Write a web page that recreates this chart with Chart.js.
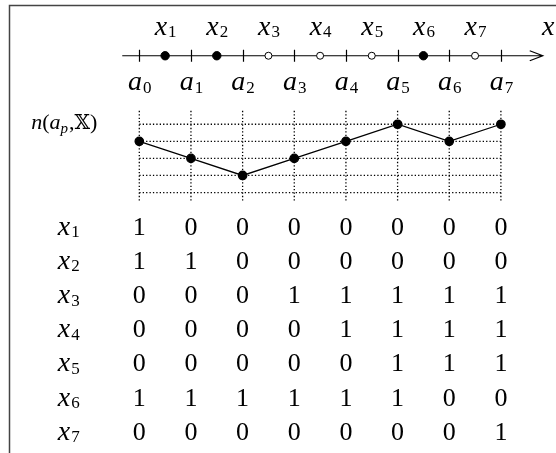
<!DOCTYPE html>
<html>
<head>
<meta charset="utf-8">
<script src="https://cdn.jsdelivr.net/npm/chart.js@4"></script>
<style>
body { margin: 0; background: #fff; }
#wrap { width: 556px; height: 453px; position: relative; }
</style>
</head>
<body>
<div id="wrap"><canvas id="myChart"></canvas></div>
<script>
// cut points a_0..a_7 (x positions 0..7)
const cutIndex = [0, 1, 2, 3, 4, 5, 6, 7];
const cutLabels = ['0', '1', '2', '3', '4', '5', '6', '7'];
// sample points x_1..x_7 sit between the cuts
const pointLabels = ['1', '2', '3', '4', '5', '6', '7'];
const pointPos = [0.5, 1.5, 2.5, 3.5, 4.5, 5.5, 6.5];
const pointFilled = [true, true, false, false, false, true, false];
// n(a_p, X)
const nValues = [3, 2, 1, 2, 3, 4, 3, 4];
const gridLevels = [0, 1, 2, 3, 4];
// table rows
const rowLabels = ['1', '2', '3', '4', '5', '6', '7'];
const rowValues = [
    [1, 0, 0, 0, 0, 0, 0, 0],
    [1, 1, 0, 0, 0, 0, 0, 0],
    [0, 0, 0, 1, 1, 1, 1, 1],
    [0, 0, 0, 0, 1, 1, 1, 1],
    [0, 0, 0, 0, 0, 1, 1, 1],
    [1, 1, 1, 1, 1, 1, 0, 0],
    [0, 0, 0, 0, 0, 0, 0, 1]
];

const FAM = '"Liberation Serif", "DejaVu Serif", "DejaVu Sans", serif';
const LINE_Y = 51;       // number line, in page pixels (yTop axis)
const TOP_LABEL_Y = 30;
const CUT_LABEL_Y = 87;
const LABEL_COL = -1.375; // x position of the row labels
const BIG = 26;   // digits
const ITAL = 28;  // italic letters
const SUB = 17;   // subscripts

function drawSub(ctx, base, sub, cx, baseline) {
    ctx.font = 'italic ' + ITAL + 'px ' + FAM;
    const w1 = ctx.measureText(base).width;
    ctx.font = SUB + 'px ' + FAM;
    const w2 = ctx.measureText(sub).width;
    const left = cx - (w1 + w2) / 2;
    ctx.textAlign = 'left';
    ctx.textBaseline = 'alphabetic';
    ctx.font = 'italic ' + ITAL + 'px ' + FAM;
    ctx.fillText(base, left, baseline);
    ctx.font = SUB + 'px ' + FAM;
    ctx.fillText(sub, left + w1 + 1, baseline + 2.5);
}

const figurePlugin = {
    id: 'figure',
    beforeDatasetsDraw(chart) {
        const ctx = chart.ctx;
        const x = chart.scales.x, yTop = chart.scales.yTop;
        ctx.save();
        // frame
        ctx.strokeStyle = '#444';
        ctx.lineWidth = 1.5;
        ctx.beginPath();
        ctx.moveTo(9.5, 453);
        ctx.lineTo(9.5, 5.5);
        ctx.lineTo(556, 5.5);
        ctx.stroke();
        // number line
        const ly = yTop.getPixelForValue(LINE_Y) + 0.5;
        const x0 = x.getPixelForValue(-0.33), x1 = x.getPixelForValue(7.81);
        ctx.strokeStyle = '#000';
        ctx.lineWidth = 1.2;
        ctx.beginPath();
        ctx.moveTo(x0, ly);
        ctx.lineTo(x1, ly);
        ctx.moveTo(x1 - 13, ly - 5);
        ctx.lineTo(x1, ly);
        ctx.lineTo(x1 - 13, ly + 5);
        cutIndex.forEach(i => {
            const px = Math.round(x.getPixelForValue(i)) + 0.5;
            ctx.moveTo(px, ly - 6);
            ctx.lineTo(px, ly + 6);
        });
        ctx.stroke();
        ctx.restore();
    },
    afterDatasetsDraw(chart) {
        const ctx = chart.ctx;
        const x = chart.scales.x, yTop = chart.scales.yTop, yRow = chart.scales.yRow;
        ctx.save();
        ctx.fillStyle = '#000';
        pointLabels.forEach((s, i) => {
            drawSub(ctx, 'x', s, x.getPixelForValue(pointPos[i]), yTop.getPixelForValue(TOP_LABEL_Y));
        });
        ctx.font = 'italic ' + ITAL + 'px ' + FAM;
        ctx.textAlign = 'left';
        ctx.fillText('x', 542, yTop.getPixelForValue(TOP_LABEL_Y));
        cutLabels.forEach((s, i) => {
            drawSub(ctx, 'a', s, x.getPixelForValue(cutIndex[i]), yTop.getPixelForValue(CUT_LABEL_Y));
        });
        // n(a_p, X) label
        const ny = yTop.getPixelForValue(127);
        let cx = x.getPixelForValue(LABEL_COL) - 37;
        const parts = [['n', 'italic 22px '], ['(', '22px '], ['a', 'italic 22px '], ['p', 'italic 15px ', 4], [',', '22px '], ['\u{1D54F}', '20px '], [')', '22px ']];
        parts.forEach(p => {
            ctx.font = p[1] + FAM;
            ctx.fillText(p[0], cx, ny + (p[2] || 0));
            cx += ctx.measureText(p[0]).width + (p[2] ? 1 : 0);
        });
        // table
        rowLabels.forEach((s, r) => {
            const by = yRow.getPixelForValue(r + 1);
            drawSub(ctx, 'x', s, x.getPixelForValue(LABEL_COL), by);
            ctx.font = BIG + 'px ' + FAM;
            ctx.textAlign = 'center';
            rowValues[r].forEach((v, c) => {
                ctx.fillText(String(v), x.getPixelForValue(cutIndex[c]), by);
            });
        });
        ctx.restore();
    }
};

const datasets = [];
cutIndex.forEach(i => {
    datasets.push({
        type: 'line', yAxisID: 'yN',
        data: [{ x: i, y: -0.47 }, { x: i, y: 4.9 }],
        borderColor: '#000', borderWidth: 1.3, borderDash: [1.3, 2.1], pointRadius: 0
    });
});
gridLevels.forEach(k => {
    datasets.push({
        type: 'line', yAxisID: 'yN',
        data: [{ x: cutIndex[0], y: k }, { x: cutIndex[cutIndex.length - 1], y: k }],
        borderColor: '#000', borderWidth: 1.3, borderDash: [1.3, 2.1], pointRadius: 0
    });
});
datasets.push({
    type: 'line', yAxisID: 'yN',
    data: nValues.map((v, i) => ({ x: cutIndex[i], y: v })),
    borderColor: '#000', borderWidth: 1.3, pointRadius: 4.2,
    pointBackgroundColor: '#000', pointBorderColor: '#000'
});
datasets.push({
    type: 'scatter', yAxisID: 'yTop',
    data: pointPos.map(p => ({ x: p, y: LINE_Y + 0.5 })),
    pointRadius: pointFilled.map(f => f ? 4.2 : 3.5),
    pointBackgroundColor: pointFilled.map(f => f ? '#000' : '#fff'),
    pointBorderColor: '#000', pointBorderWidth: 1
});

const ctx = document.getElementById('myChart').getContext('2d');
const myChart = new Chart(ctx, {
    data: { datasets: datasets },
    plugins: [figurePlugin],
    options: {
        responsive: true,
        maintainAspectRatio: false,
        animation: false,
        layout: { padding: 0 },
        plugins: { legend: { display: false }, tooltip: { enabled: false } },
        scales: {
            x: { type: 'linear', display: false, min: -2.5901, max: 7.9601 },
            yN: { type: 'linear', display: false, min: -14.931, max: 10.954 },
            yRow: { type: 'linear', display: false, reverse: true, min: -5.714, max: 7.229 },
            yTop: { type: 'linear', display: false, reverse: true, min: 0, max: 453 }
        }
    }
});
</script>
</body>
</html>
